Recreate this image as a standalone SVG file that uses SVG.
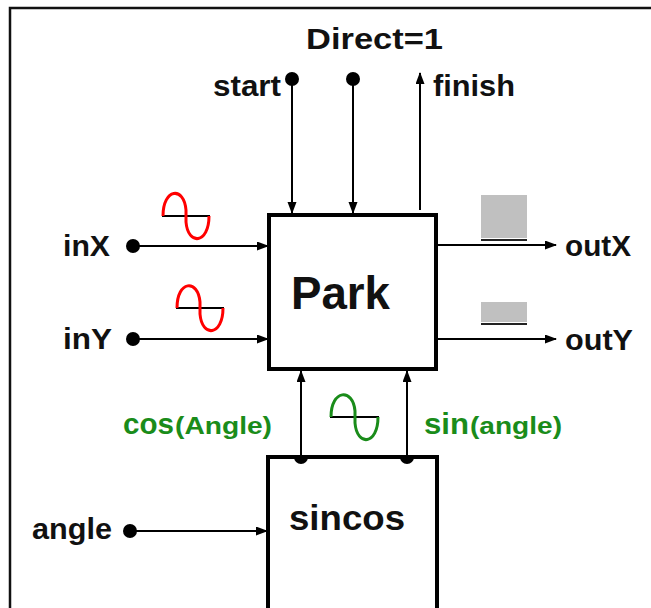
<svg xmlns="http://www.w3.org/2000/svg" width="651" height="608" viewBox="0 0 651 608">
<defs>
<marker id="ah" markerWidth="12" markerHeight="10" refX="11" refY="4.5" orient="auto" markerUnits="userSpaceOnUse">
<path d="M0,0 L12,4.5 L0,9 Z" fill="#000"/>
</marker>
<style>
.lbl{font-family:"Liberation Sans",Arial,sans-serif;font-weight:bold;font-size:29px;fill:#111}
.grn{font-family:"Liberation Sans",Arial,sans-serif;font-weight:bold;fill:#1a8c1a}
.box{fill:#fff;stroke:#000;stroke-width:4}
.wire{stroke:#000;stroke-width:2;fill:none}
.red{stroke:#f00;stroke-width:3;fill:none}
.green{stroke:#1a8c1a;stroke-width:3;fill:none}
.axis{stroke:#000;stroke-width:2}
</style>
</defs>
<rect width="651" height="608" fill="#fff"/>
<g id="frame">
<path d="M10,608 L10,8 L651,8" fill="none" stroke="#111" stroke-width="2.5"/>
</g>
<g id="park">
<rect class="box" x="269" y="215" width="167" height="154"/>
<text class="lbl" x="291" y="309" style="font-size:47px" textLength="99" lengthAdjust="spacingAndGlyphs">Park</text>
</g>
<g id="sincos">
<rect class="box" x="268" y="457" width="169" height="160"/>
<text class="lbl" x="289" y="530" style="font-size:35px" textLength="116" lengthAdjust="spacingAndGlyphs">sincos</text>
</g>
<g id="connectors">
<line class="wire" x1="292" y1="79" x2="292" y2="213" marker-end="url(#ah)"/>
<circle cx="292" cy="79" r="7" fill="#000"/>
<line class="wire" x1="353" y1="79" x2="353" y2="213" marker-end="url(#ah)"/>
<circle cx="353" cy="79" r="7" fill="#000"/>
<line class="wire" x1="420" y1="210" x2="420" y2="73" marker-end="url(#ah)"/>
<line class="wire" x1="133" y1="246" x2="268" y2="246" marker-end="url(#ah)"/>
<circle cx="133" cy="246" r="7" fill="#000"/>
<line class="wire" x1="133" y1="339" x2="268" y2="339" marker-end="url(#ah)"/>
<circle cx="133" cy="339" r="7" fill="#000"/>
<line class="wire" x1="437" y1="245" x2="556" y2="245" marker-end="url(#ah)"/>
<line class="wire" x1="437" y1="339" x2="556" y2="339" marker-end="url(#ah)"/>
<line class="wire" x1="130" y1="531" x2="267" y2="531" marker-end="url(#ah)"/>
<circle cx="130" cy="531" r="7" fill="#000"/>
<line class="wire" x1="301" y1="457" x2="301" y2="371" marker-end="url(#ah)"/>
<path d="M294,457 A7,7 0 0 0 308,457 Z" fill="#000"/>
<line class="wire" x1="407" y1="457" x2="407" y2="371" marker-end="url(#ah)"/>
<path d="M400,457 A7,7 0 0 0 414,457 Z" fill="#000"/>
</g>
<g id="waves">
<line class="axis" x1="162" y1="216" x2="210" y2="216"/>
<path class="red" d="M163,216 C163,188 184,186 186,210 L186,222 C188,246 209,244 209,216"/>
<line class="axis" x1="176" y1="308" x2="224" y2="308"/>
<path class="red" d="M177,308 C177,280 198,279 200,302 L200,314 C202,338 223,336 223,308"/>
<line class="axis" x1="330" y1="417" x2="379" y2="417"/>
<path class="green" d="M331,417 C331,389 353,388 355,411 L355,423 C357,447 378,445 378,417"/>
<rect x="481" y="195" width="46" height="43" fill="#c0c0c0"/>
<line x1="481" y1="240" x2="527" y2="240" stroke="#222" stroke-width="2"/>
<rect x="481" y="302" width="46" height="20" fill="#c0c0c0"/>
<line x1="481" y1="324" x2="527" y2="324" stroke="#222" stroke-width="2"/>
</g>
<g id="labels">
<text class="lbl" x="306" y="49" textLength="137" lengthAdjust="spacingAndGlyphs">Direct=1</text>
<text class="lbl" x="213" y="96" textLength="68" lengthAdjust="spacingAndGlyphs">start</text>
<text class="lbl" x="433" y="96" textLength="82" lengthAdjust="spacingAndGlyphs">finish</text>
<text class="lbl" x="63" y="256" textLength="47" lengthAdjust="spacingAndGlyphs">inX</text>
<text class="lbl" x="63" y="349" textLength="49" lengthAdjust="spacingAndGlyphs">inY</text>
<text class="lbl" x="565" y="256" textLength="66" lengthAdjust="spacingAndGlyphs">outX</text>
<text class="lbl" x="565" y="350" textLength="68" lengthAdjust="spacingAndGlyphs">outY</text>
<text class="lbl" x="32" y="539" textLength="80" lengthAdjust="spacingAndGlyphs">angle</text>
<text class="grn" x="123" y="434" style="font-size:30px" textLength="51" lengthAdjust="spacingAndGlyphs">cos</text>
<text class="grn" x="175" y="434" style="font-size:24px" textLength="97" lengthAdjust="spacingAndGlyphs">(Angle)</text>
<text class="grn" x="424" y="434" style="font-size:30px" textLength="45" lengthAdjust="spacingAndGlyphs">sin</text>
<text class="grn" x="470" y="434" style="font-size:24px" textLength="92" lengthAdjust="spacingAndGlyphs">(angle)</text>
</g>
</svg>
